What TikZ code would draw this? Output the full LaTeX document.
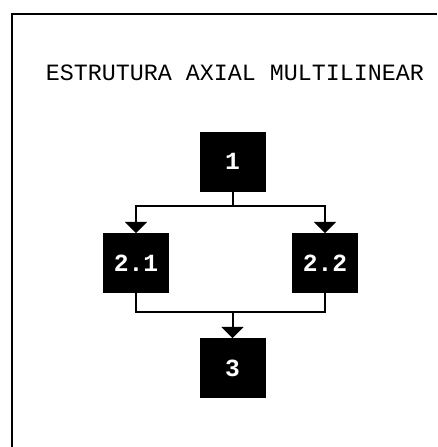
\documentclass[tikz,border=0pt]{standalone}
\usepackage{fontspec}
\setmonofont{Liberation Mono}
\usetikzlibrary{arrows.meta}

\begin{document}
\begin{tikzpicture}[
  x=0.75pt, y=-0.75pt,
  every node/.style = {font=\ttfamily\fontsize{17.5}{20}\selectfont},
  block/.style = {shape=rectangle, fill=black, draw=black, text=white,
    minimum width=48.75pt, minimum height=44.25pt, inner sep=0pt,
    font=\ttfamily\bfseries\fontsize{18.5}{20}\selectfont},
  link/.style = {line width=1.5pt},
  flow/.style = {link, -{Triangle[width=16.5pt, length=8.5pt]}}
  ]
  \useasboundingbox (0,0) rectangle (437,447);
  % frame
  \draw[line width=2pt] (12,447) -- (12,14) -- (437,14);
  \node (title) at (235,73) {ESTRUTURA AXIAL MULTILINEAR};
  % blocks
  \node[block] (n1)  at (232.5,161.5) {1};
  \node[block] (n21) at (136,263) {2.1};
  \node[block] (n22) at (325,263) {2.2};
  \node[block] (n3)  at (232.5,368) {3};
  % split
  \draw[flow] (n1.south) -- ++(0,15) -| (n21.north);
  \draw[flow] (n1.south) -- ++(0,15) -| (n22.north);
  % merge
  \coordinate (join) at (232.5,312);
  \draw[link] (n21.south) |- (join) -| (n22.south);
  \draw[flow] (join) -- (n3.north);
\end{tikzpicture}
\end{document}
